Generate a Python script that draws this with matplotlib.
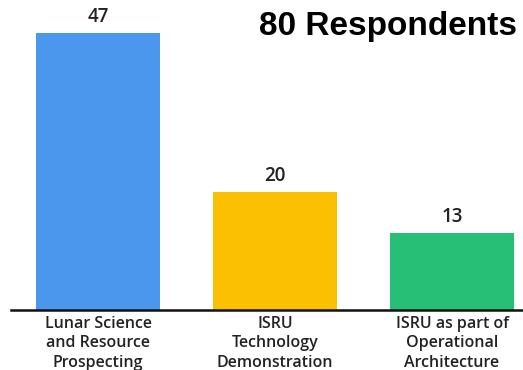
import matplotlib
matplotlib.use("Agg")
import matplotlib.pyplot as plt

categories = ["Lunar Science\nand Resource\nProspecting",
              "ISRU\nTechnology\nDemonstration",
              "ISRU as part of\nOperational\nArchitecture"]
values = [47, 20, 13]
colors = ["#4C97EE", "#FCC003", "#27BF76"]
title = "80 Respondents"

fig = plt.figure(figsize=(5.23, 3.70), dpi=100)
ax = fig.add_axes([11/523, 60/370, 512/523, 310/370])
x = range(len(values))
ax.bar(x, values, width=0.70, color=colors, zorder=2)
for xi, v in zip(x, values):
    ax.text(xi, v + 1.0, str(v), ha="center", va="bottom", fontsize=13.5,
            fontweight="semibold", family="Open Sans", color="#222222")
ax.set_xlim(-0.4915, 2.401)
ax.set_ylim(0, 52.6)
for s in ["top", "right", "left"]:
    ax.spines[s].set_visible(False)
ax.spines["bottom"].set_linewidth(1.8)
ax.spines["bottom"].set_color("#111111")
ax.set_yticks([])
ax.set_xticks(list(x))
ax.set_xticklabels(categories, fontsize=11.5, family="Open Sans", fontweight="semibold",
                   color="#222222", linespacing=1.3)
ax.tick_params(axis="x", length=0, pad=4)
fig.text(517/523, 1 - 27/370, title, ha="right", va="center", fontsize=24,
         fontweight="bold", family="Liberation Sans", color="black")
fig.savefig("out.png", dpi=100)
